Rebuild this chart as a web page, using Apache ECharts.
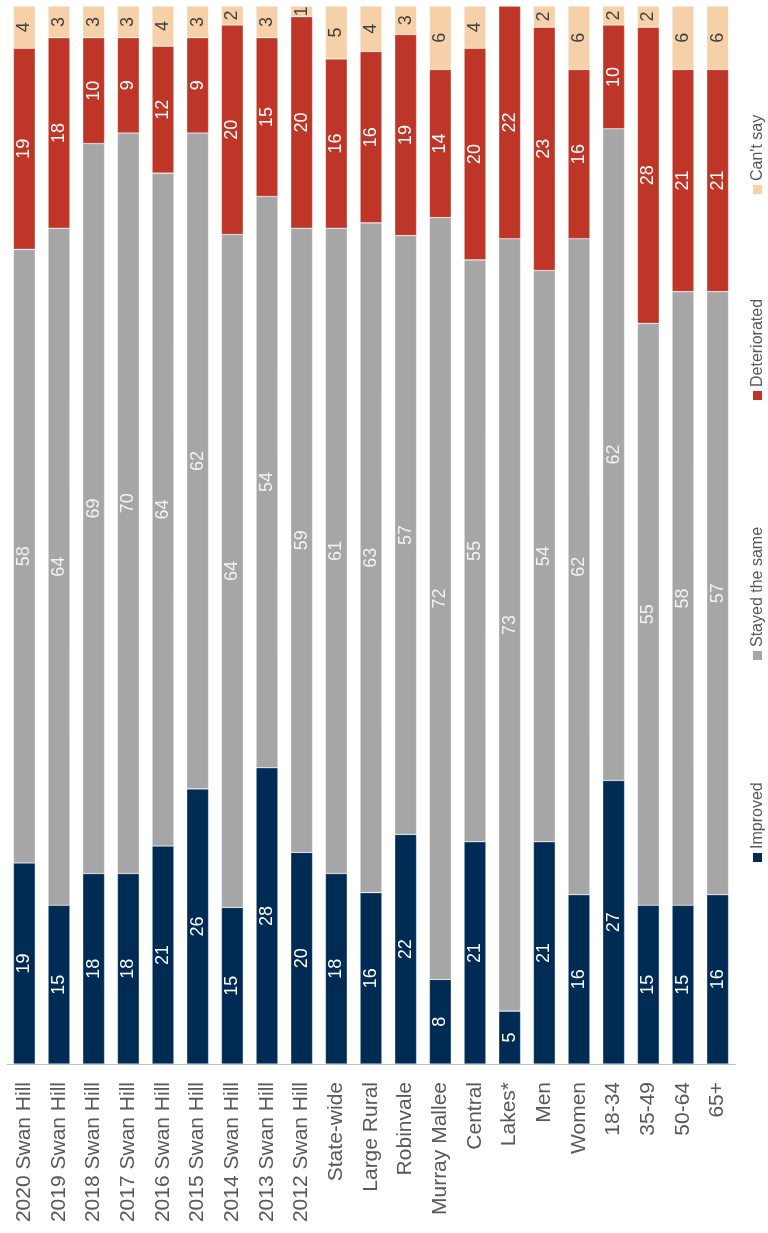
<!DOCTYPE html>
<html>
<head>
<meta charset="utf-8">
<script src="https://cdn.jsdelivr.net/npm/echarts@6/dist/echarts.min.js"></script>
<style>
html,body{margin:0;padding:0;background:#fff;}
#chart{width:768px;height:1233px;}
</style>
</head>
<body>
<div id="chart"></div>
<script>
const categories = ['2020 Swan Hill','2019 Swan Hill','2018 Swan Hill','2017 Swan Hill','2016 Swan Hill','2015 Swan Hill','2014 Swan Hill','2013 Swan Hill','2012 Swan Hill','State-wide','Large Rural','Robinvale','Murray Mallee','Central','Lakes*','Men','Women','18-34','35-49','50-64','65+'];
const seriesNames = ['Improved','Stayed the same','Deteriorated',"Can't say"];
// Percentages (unrounded estimates where the printed labels do not add up to 100)
const improved     = [19,15,18,18,20.6,26,14.8,28,20,18,16.2,21.7, 8,21, 5,21,16,26.8,15,15,16];
const stayedSame   = [58,64,69,70,63.6,62,63.6,54,59,61,63.3,56.6,72,55,73,54,62,61.6,55,58,57];
const deteriorated = [19,18,10, 9,12.0, 9,19.8,15,20,16,16.2,19.0,14,20,22,23,16, 9.8,28,21,21];
const cantSay      = [ 4, 3, 3, 3, 3.8, 3, 1.8, 3, 1, 5, 4.3, 2.7, 6, 4, 0, 2, 6, 1.8, 2, 6, 6];

const colors = ['#002b54','#a6a6a6','#bd3628','#f6d0a8'];
const labelColors = ['#ffffff','#f2f2f2','#ffffff','#404040'];
const seriesData = [improved, stayedSame, deteriorated, cantSay];
const FONT = 'Liberation Sans, Arial, sans-serif';

const chart = echarts.init(document.getElementById('chart'));

const series = seriesNames.map((name, i) => ({
  name: name,
  type: 'bar',
  stack: 'total',
  barCategoryGap: '37%',
  data: seriesData[i],
  itemStyle: { color: colors[i], borderColor: 'rgba(255,255,255,0.45)', borderWidth: 0.6 },
  label: {
    show: true,
    position: 'inside',
    rotate: 90,
    fontSize: 18,
    fontFamily: FONT,
    color: labelColors[i],
    formatter: p => (p.value ? String(Math.round(p.value)) : '')
  },
  emphasis: { disabled: true },
  animation: false
}));

// Legend drawn as rotated graphic (text reads bottom to top)
const legendPos = [0, 202, 462, 668];
const legendChildren = [];
seriesNames.forEach((name, i) => {
  legendChildren.push({
    type: 'rect',
    x: legendPos[i], y: -5,
    shape: { width: 9, height: 9 },
    style: { fill: colors[i] }
  });
  legendChildren.push({
    type: 'text',
    x: legendPos[i] + 13, y: 0,
    style: {
      text: name,
      fill: '#595959',
      font: '16px ' + FONT,
      textAlign: 'left',
      textVerticalAlign: 'middle'
    }
  });
});

chart.setOption({
  animation: false,
  grid: { left: 7, right: 33, top: 6, bottom: 169, containLabel: false },
  xAxis: {
    type: 'category',
    data: categories,
    axisLine: { show: true, lineStyle: { color: '#bfbfbf', width: 1 } },
    axisTick: { show: false },
    axisLabel: {
      rotate: 90,
      interval: 0,
      margin: 18,
      fontSize: 21,
      fontFamily: FONT,
      color: '#595959'
    }
  },
  yAxis: {
    type: 'value',
    min: 0,
    max: 100,
    show: false,
    splitLine: { show: false }
  },
  series: series,
  graphic: [{
    type: 'group',
    x: 758,
    y: 862,
    rotation: Math.PI / 2,
    children: legendChildren
  }]
});
</script>
</body>
</html>
